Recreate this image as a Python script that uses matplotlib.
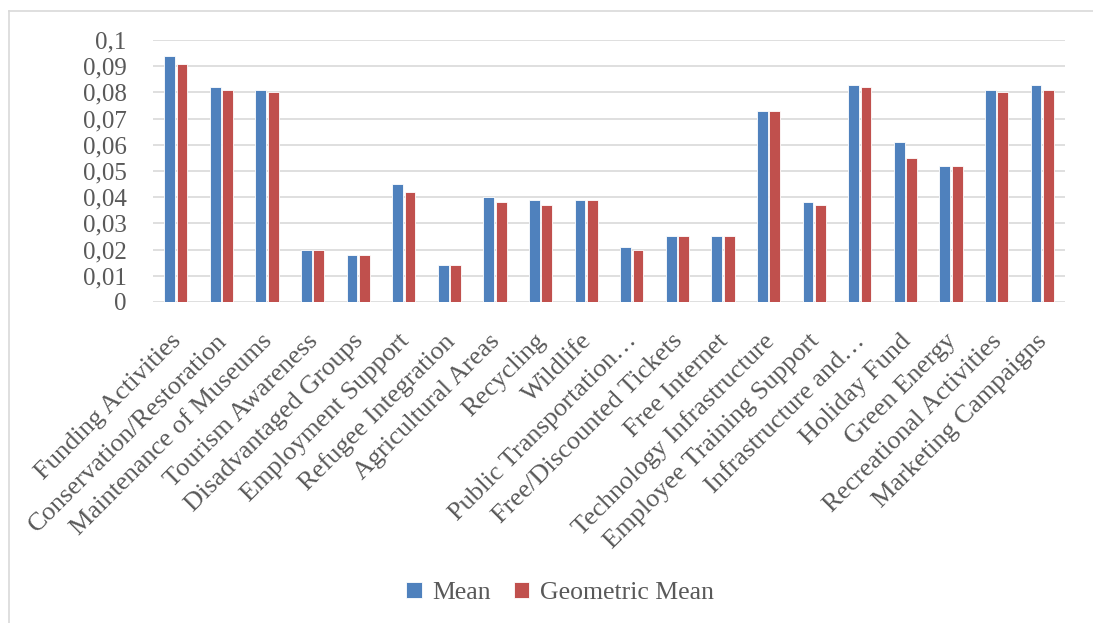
import numpy as np
import matplotlib.pyplot as plt
from matplotlib.lines import Line2D
from matplotlib.transforms import ScaledTranslation

plt.rcParams['font.family'] = ['Liberation Serif', 'DejaVu Serif']

categories = [
    'Funding Activities', 'Conservation/Restoration', 'Maintenance of Museums',
    'Tourism Awareness', 'Disadvantaged Groups', 'Employment Support',
    'Refugee Integration', 'Agricultural Areas', 'Recycling', 'Wildlife',
    'Public Transportation…', 'Free/Discounted Tickets', 'Free Internet',
    'Technology Infrastructure', 'Employee Training Support',
    'Infrastructure and…', 'Holiday Fund', 'Green Energy',
    'Recreational Activities', 'Marketing Campaigns',
]
mean_vals = [0.094, 0.082, 0.081, 0.020, 0.018, 0.045, 0.014, 0.040, 0.039, 0.039,
             0.021, 0.025, 0.025, 0.073, 0.038, 0.083, 0.061, 0.052, 0.081, 0.083]
geo_vals = [0.091, 0.081, 0.080, 0.020, 0.018, 0.042, 0.014, 0.038, 0.037, 0.039,
            0.020, 0.025, 0.025, 0.073, 0.037, 0.082, 0.055, 0.052, 0.080, 0.081]
y_ticks = [0, 0.01, 0.02, 0.03, 0.04, 0.05, 0.06, 0.07, 0.08, 0.09, 0.1]

blue = '#4F81BD'
red = '#C0504D'
txt = '#595959'

fig = plt.figure(figsize=(10.93, 6.23), dpi=100)
ax = fig.add_axes([153 / 1093, 1 - 302 / 623, (1065 - 153) / 1093, (302 - 40) / 623])

x = np.arange(len(categories))
w = 0.235
ax.bar(x - 0.135, mean_vals, w, color=blue, edgecolor='white', linewidth=0.6,
       label='Mean', zorder=3)
ax.bar(x + 0.135, geo_vals, w, color=red, edgecolor='white', linewidth=0.6,
       label='Geometric Mean', zorder=3)

ax.set_xlim(-0.5, len(categories) - 0.5)
ax.set_ylim(0, 0.1)
ax.set_yticks(y_ticks)


def fmt(v):
    s = f'{v:.2f}'.rstrip('0').rstrip('.')
    return s.replace('.', ',')


ax.set_yticklabels([fmt(v) for v in y_ticks], fontsize=18, color=txt)
ax.yaxis.grid(True, color='#D9D9D9', linewidth=1.2, zorder=0)
for s in ax.spines.values():
    s.set_visible(False)
ax.tick_params(axis='y', length=0, pad=19)
ax.tick_params(axis='x', length=0, pad=20)

ax.set_xticks(x)
ax.set_xticklabels(categories, rotation=45, ha='right', va='top',
                   rotation_mode='anchor', fontsize=19, color=txt)
shift = ScaledTranslation(-6 / 100, 0, fig.dpi_scale_trans)
for lbl in ax.get_xticklabels():
    lbl.set_transform(lbl.get_transform() + shift)

ax.legend(loc='center', bbox_to_anchor=(560 / 1093, 1 - 593 / 623),
          bbox_transform=fig.transFigure, ncol=2, frameon=False,
          fontsize=18.5, labelcolor=txt, handlelength=0.6, handleheight=0.6,
          handletextpad=0.4, columnspacing=0.9)

# outer frame (cropped at right and bottom)
fig.add_artist(Line2D([9 / 1093, 1], [1 - 11 / 623] * 2, transform=fig.transFigure,
                      color='#D9D9D9', linewidth=1.2))
fig.add_artist(Line2D([9 / 1093] * 2, [0, 1 - 11 / 623], transform=fig.transFigure,
                      color='#D9D9D9', linewidth=1.2))

fig.savefig('out.png', dpi=100)
